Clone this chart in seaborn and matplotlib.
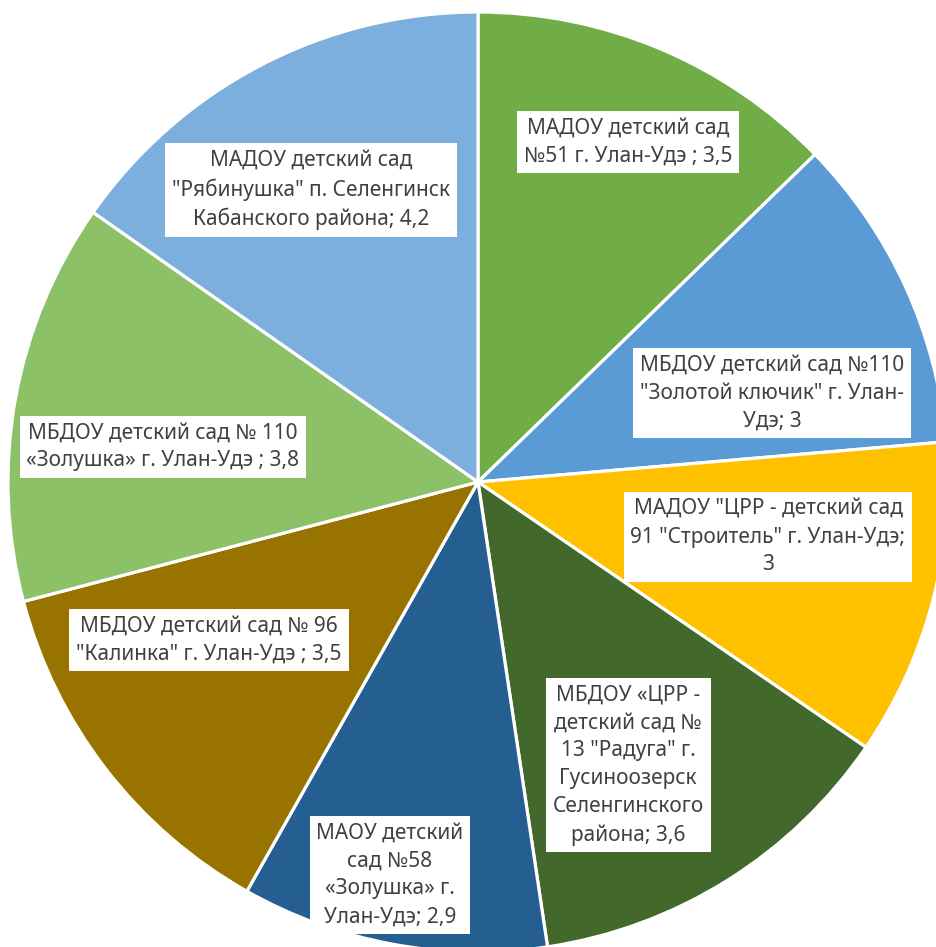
import numpy as np
import pandas as pd
import seaborn as sns
import matplotlib.pyplot as plt

sns.set_theme(style="white")
plt.rcParams['font.family'] = ['Noto Sans', 'DejaVu Sans']

# данные
садики = ['МАДОУ детский сад\n№51 г. Улан-Удэ ; 3,5',
          'МБДОУ детский сад №110\n"Золотой ключик" г. Улан-\nУдэ; 3',
          'МАДОУ "ЦРР - детский сад\n91 "Строитель" г. Улан-Удэ;\n3',
          'МБДОУ «ЦРР -\nдетский сад №\n13 "Радуга" г.\nГусиноозерск\nСеленгинского\nрайона; 3,6',
          'МАОУ детский\nсад №58\n«Золушка» г.\nУлан-Удэ; 2,9',
          'МБДОУ детский сад № 96\n"Калинка" г. Улан-Удэ ; 3,5',
          'МБДОУ детский сад № 110\n«Золушка» г. Улан-Удэ ; 3,8',
          'МАДОУ детский сад\n"Рябинушка" п. Селенгинск\nКабанского района; 4,2']
баллы = [3.5, 3, 3, 3.6, 2.9, 3.5, 3.8, 4.2]

цвета = ['#70AD47', '#5B9BD5', '#FFC000', '#43682B',
         '#255E91', '#997300', '#8CC168', '#7CAFDD']

# где стоят подписи (пиксели картинки)
места_px = [(628, 142), (772, 393), (768, 537), (628, 765),
            (390, 875), (209, 640), (163, 447), (311, 190)]

W, H = 936, 947
cx, cy, R = 478, 482, 470

fig = plt.figure(figsize=(W / 100, H / 100), dpi=100)
ax = fig.add_axes([(cx - R) / W, (H - cy - R) / H, 2 * R / W, 2 * R / H])

ax.pie(баллы, colors=цвета, startangle=90, counterclock=False, radius=1,
       wedgeprops=dict(edgecolor='white', linewidth=2.3))

for txt, (px, py) in zip(садики, места_px):
    ax.text((px - cx) / R, (cy - py) / R, txt, ha='center', va='center',
            fontsize=15, color='#404040', linespacing=1.43,
            bbox=dict(facecolor='white', edgecolor='none', pad=5))

ax.set_xlim(-1, 1)
ax.set_ylim(-1, 1)
ax.set_aspect('equal')
ax.axis('off')

fig.savefig('out.png', dpi=100)
